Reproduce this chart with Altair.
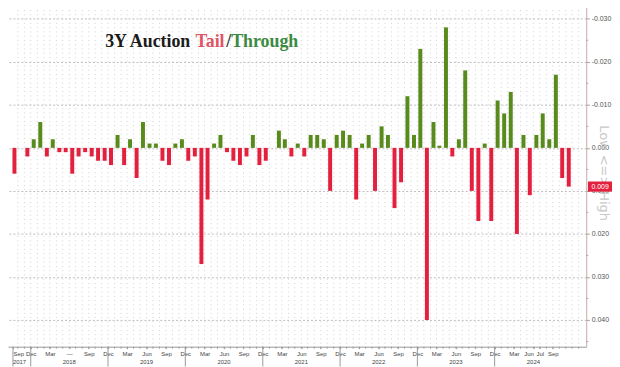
import altair as alt
import pandas as pd
import numpy as np

# ---- data ----
first_month = "2017-09-01"
# auction tail (+) / stop-through (-), one value per month
values = [0.006, 0.0, 0.002, -0.002, -0.006, 0.002, -0.002, 0.001, 0.001, 0.006,
          0.002, 0.001, 0.002, 0.003, 0.003, 0.004, -0.003, 0.004, -0.002, 0.007,
          -0.006, -0.001, -0.001, 0.003, 0.004, -0.001, -0.002, 0.003, 0.002, 0.027,
          0.012, -0.001, -0.003, 0.001, 0.003, 0.004, 0.002, -0.003, 0.004, 0.003,
          0.0, -0.004, -0.002, 0.002, -0.001, 0.002, -0.003, -0.003, -0.002, 0.010,
          -0.003, -0.004, -0.003, 0.012, -0.001, -0.003, 0.010, -0.005, -0.003, 0.014,
          0.008, -0.012, -0.003, -0.023, 0.040, -0.006, -0.0005, -0.028, 0.002, -0.002,
          -0.018, 0.010, 0.017, -0.001, 0.017, -0.011, -0.008, -0.013, 0.020, -0.003,
          0.011, -0.003, -0.008, -0.002, -0.017, 0.007, 0.009]
tick_months = ["2017-09", "2017-12", "2018-03", "2018-06", "2018-09", "2018-12",
               "2019-03", "2019-06", "2019-09", "2019-12", "2020-03", "2020-06",
               "2020-09", "2020-12", "2021-03", "2021-06", "2021-09", "2021-12",
               "2022-03", "2022-06", "2022-09", "2022-12", "2023-03", "2023-06",
               "2023-09", "2023-12", "2024-03", "2024-06", "2024-07", "2024-09"]
tick_texts = ["Sep", "Dec", "Mar", "\u2014", "Sep", "Dec", "Mar", "Jun", "Sep", "Dec",
              "Mar", "Jun", "Sep", "Dec", "Mar", "Jun", "Sep", "Dec", "Mar", "Jun",
              "Sep", "Dec", "Mar", "Jun", "Sep", "Dec", "Mar", "Jun", "Jul", "Sep"]
years = ["2017", "2018", "2019", "2020", "2021", "2022", "2023", "2024"]
y_ticks = [-0.03, -0.02, -0.01, 0.0, 0.01, 0.02, 0.03, 0.04]
y_minor = [-0.025, -0.015, -0.005, 0.005, 0.015, 0.025, 0.035, 0.045]

RED = "#e3213f"
GREEN = "#588a1c"
FONT = "Liberation Sans"


def ms(ts):
    return int(pd.Timestamp(ts).value // 10**6)


months = pd.date_range(first_month, periods=len(values), freq="MS")
bar_dates = [ms(m + pd.Timedelta(days=14)) for m in months]
df = pd.DataFrame({"date": bar_dates, "value": values})
df["kind"] = np.where(df["value"] >= 0, "tail", "through")

dom_start = ms(months[0] + pd.Timedelta(days=7))
dom_end = ms(months[-1] + pd.Timedelta(days=73))

tick_vals = [dom_start] + [ms(t + "-01") for t in tick_months[1:]]
label_map = " : ".join(
    f"time(datum.value) == {v} ? '{t}'" for v, t in zip(tick_vals, tick_texts)
) + " : ''"
jun24 = ms("2024-06-01")

W, H = 583, 348

x_axis = alt.Axis(
    values=tick_vals, labelExpr=label_map, title=None, grid=False,
    labelFontSize=6, labelColor="#444", labelFont=FONT, tickSize=2, tickColor="#999",
    domainColor="#999", labelPadding=2, labelOverlap=False,
    labelAlign={"condition": [
        {"test": f"time(datum.value) == {dom_start}", "value": "left"},
        {"test": f"time(datum.value) == {jun24}", "value": "right"}],
        "value": "center"})
x_scale = alt.Scale(type="utc", domain=[dom_start, dom_end])
y_axis = alt.Axis(orient="right", values=y_ticks, title=None,
                  labelExpr="replace(format(datum.value, '.3f'), '\u2212', '-')",
                  labelFontSize=7, labelColor="#555", labelFont=FONT,
                  grid=True, gridColor="#bcbcbc", gridDash=[2, 2], tickSize=3,
                  tickColor="#999", domainColor="#c9a9ad", labelPadding=2)
y_scale = alt.Scale(domain=[-0.034, 0.0462], reverse=True, nice=False, zero=False)


def xenc(field="date"):
    return alt.X(f"{field}:T", scale=x_scale, axis=x_axis)


def yenc(field="value"):
    return alt.Y(f"{field}:Q", scale=y_scale, axis=y_axis)


# dotted vertical lattice (one line per month) + small monthly axis ticks
grid_df = pd.DataFrame({"date": [ms(m) for m in pd.date_range("2017-10-01", periods=len(values) + 1, freq="MS")]})
grid_v = alt.Chart(grid_df).mark_rule(color="#cfcfcf", strokeDash=[1, 3.3], strokeWidth=1).encode(
    x=xenc(), y=alt.value(0), y2=alt.value(H))
mticks = alt.Chart(grid_df).mark_rule(color="#999", strokeWidth=1).encode(
    x=xenc(), y=alt.value(H), y2=alt.value(H + 2))
yminor = alt.Chart(pd.DataFrame({"value": y_minor})).mark_rule(color="#b9a0a4", strokeWidth=1).encode(
    y=yenc(), x=alt.value(W), x2=alt.value(W + 2))

bars = alt.Chart(df).mark_bar(width=4).encode(
    x=xenc(), y=yenc(), y2=alt.datum(0),
    color=alt.Color("kind:N", scale=alt.Scale(domain=["tail", "through"], range=[RED, GREEN]), legend=None))

# year separators & labels
sep_dates = [dom_start] + [ms(f"{y}-12-01") for y in years[:-1]]
sep = alt.Chart(pd.DataFrame({"date": sep_dates})).mark_rule(color="#999", strokeWidth=1).encode(
    x=xenc(), y=alt.value(H), y2=alt.value(H + 20))
yl_df = pd.DataFrame({"date": [ms(f"{y}-06-01") for y in years[1:]], "t": years[1:]})
year_lab = alt.Chart(yl_df).mark_text(fontSize=6, color="#444", font=FONT, baseline="middle").encode(
    x=xenc(), y=alt.value(H + 15), text="t:N")
first_year = alt.Chart(pd.DataFrame({"date": [dom_start], "t": [years[0]]})).mark_text(
    fontSize=6, color="#444", font=FONT, baseline="middle", align="left", dx=0).encode(
    x=xenc(), y=alt.value(H + 15), text="t:N")

# last value badge
last = df.tail(1).copy()
last["t"] = last["value"].map(lambda v: f"{v:.3f}")
badge = alt.Chart(last).mark_point(shape="M-1,-0.42L1,-0.42L1,0.42L-1,0.42Z", filled=True,
                                   color=RED, size=600, opacity=1).encode(
    x=alt.value(W + 14), y=yenc())
badge_t = alt.Chart(last).mark_text(fontSize=7, color="white", font=FONT).encode(
    x=alt.value(W + 14), y=yenc(), text="t:N")

side = alt.Chart(pd.DataFrame({"t": ["Low <=> High"]})).mark_text(
    angle=90, fontSize=13, color="#c8c8c8", font="DejaVu Sans").encode(
    x=alt.value(W + 18), y=alt.value(173), text="t:N")

# title in four colours
title_parts = [("3Y Auction", "#1b1b1b", 98), ("Tail", "#e05563", 189),
               ("/", "#2b3b2b", 220), ("Through", "#3b8a3f", 225)]
titles = [alt.Chart(pd.DataFrame({"t": [t]})).mark_text(
    font="Liberation Serif", fontWeight="bold", fontSize=18, color=c, align="left", baseline="middle").encode(
    x=alt.value(xp), y=alt.value(41), text="t:N") for t, c, xp in title_parts]

chart = alt.layer(grid_v, side, mticks, yminor, bars, sep, year_lab, first_year, badge, badge_t, *titles).properties(
    width=W, height=H,
    padding={"left": 0, "top": -8, "right": 26, "bottom": 19},
    autosize=alt.AutoSizeParams(type="none"),
    background="white",
).configure_view(stroke=None)

chart.save("out.html", embed_options={"renderer": "svg", "actions": False})
